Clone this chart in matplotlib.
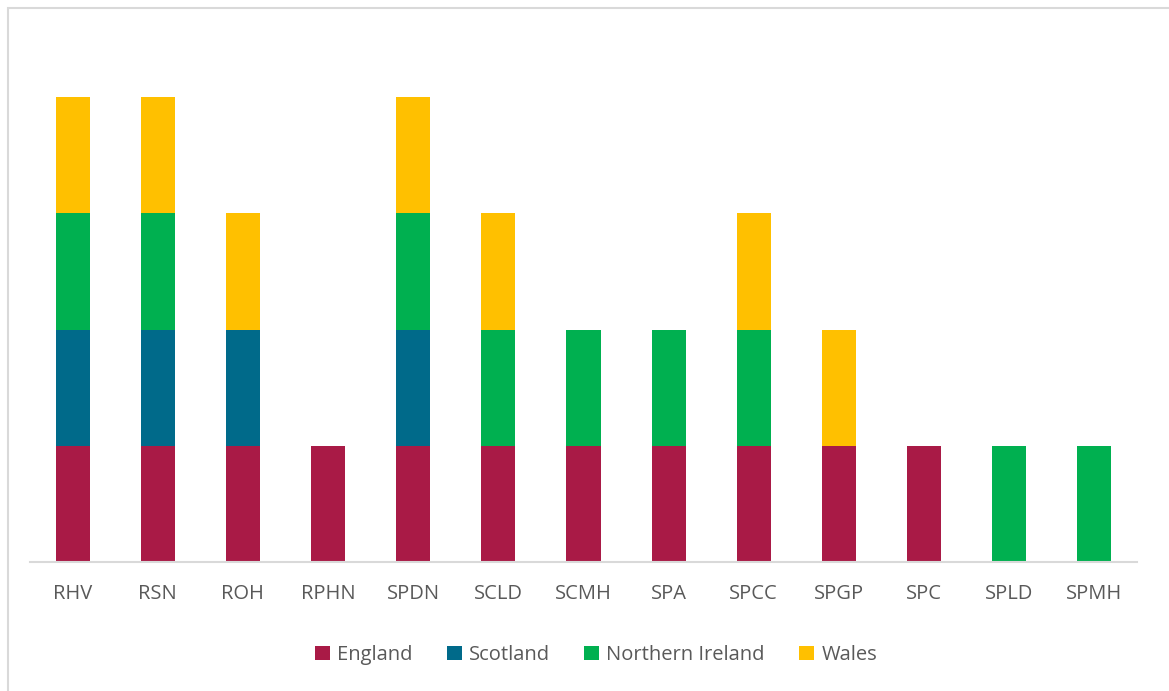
import numpy as np
from matplotlib import pyplot as plt
from matplotlib.patches import Rectangle

categories = ['RHV', 'RSN', 'ROH', 'RPHN', 'SPDN', 'SCLD', 'SCMH', 'SPA',
              'SPCC', 'SPGP', 'SPC', 'SPLD', 'SPMH']
england = [1, 1, 1, 1, 1, 1, 1, 1, 1, 1, 1, 0, 0]
scotland = [1, 1, 1, 0, 1, 0, 0, 0, 0, 0, 0, 0, 0]
n_ireland = [1, 1, 0, 0, 1, 1, 1, 1, 1, 0, 0, 1, 1]
wales = [1, 1, 1, 0, 1, 1, 0, 0, 1, 1, 0, 0, 0]

series = [('England', england, '#A91A46'),
          ('Scotland', scotland, '#006A8A'),
          ('Northern Ireland', n_ireland, '#00B050'),
          ('Wales', wales, '#FFC000')]

plt.rcParams['font.family'] = ['Open Sans', 'DejaVu Sans']

W, H = 1169, 691
fig = plt.figure(figsize=(W / 100, H / 100), dpi=100)
ax = fig.add_axes([30 / W, (H - 562) / H, 1107 / W, 522 / H])

x = np.arange(len(categories))
bottom = np.zeros(len(categories))
for name, vals, col in series:
    vals = np.array(vals)
    ax.bar(x, vals, 0.4, bottom=bottom, color=col, label=name)
    bottom += vals

ax.set_xlim(-0.5, len(categories) - 0.5)
ax.set_ylim(0, 522 / 116.25)
ax.set_xticks(x)
ax.set_xticklabels(categories, fontsize=14.5, color='#595959')
ax.tick_params(axis='x', length=0, pad=16)
ax.set_yticks([])
for s in ['top', 'right', 'left']:
    ax.spines[s].set_visible(False)
ax.spines['bottom'].set_color('#D9D9D9')
ax.spines['bottom'].set_linewidth(1.5)

leg = fig.legend(loc='center', bbox_to_anchor=(596 / W, 1 - 655 / H), ncol=4,
                 frameon=False, fontsize=14.5, handlelength=0.75, handleheight=0.75,
                 handletextpad=0.35, columnspacing=1.7)
for t in leg.get_texts():
    t.set_color('#595959')

# chart frame: only left and top edges are visible in the crop
fig.patches.append(Rectangle((8 / W, -10 / H), (W + 20) / W, (H + 2) / H,
                             transform=fig.transFigure, fill=False,
                             edgecolor='#D9D9D9', linewidth=1.5))

fig.savefig('out.png', dpi=100)
